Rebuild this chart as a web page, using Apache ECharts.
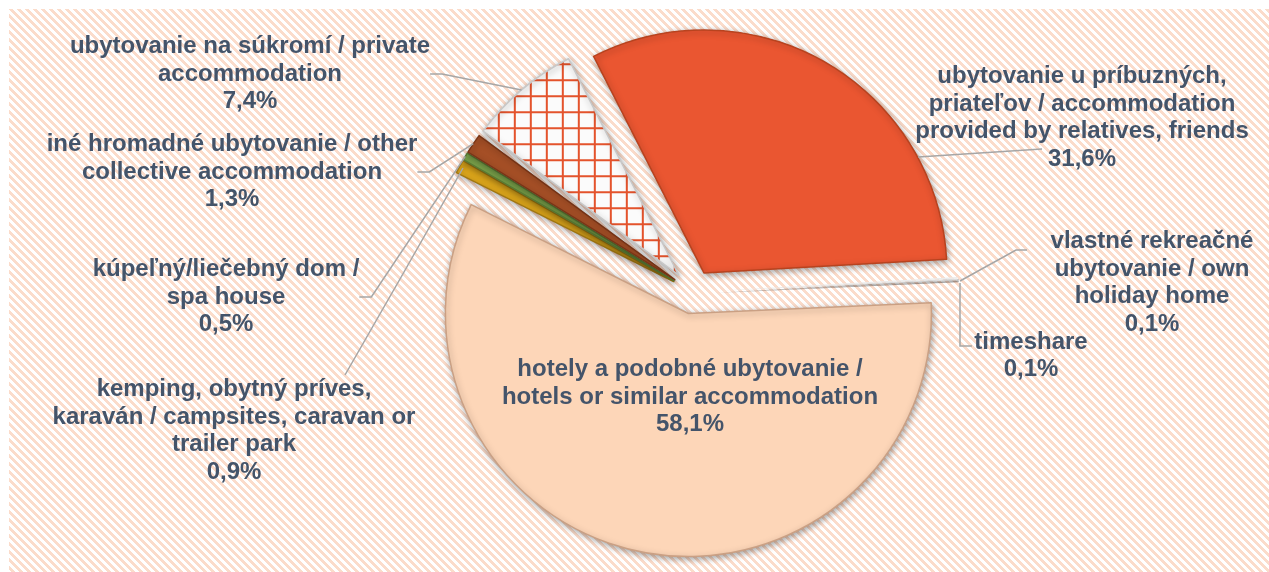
<!DOCTYPE html>
<html>
<head>
<meta charset="utf-8">
<title>Ubytovanie</title>
<script src="https://cdn.jsdelivr.net/npm/echarts@6/dist/echarts.min.js"></script>
<style>
  html, body { margin: 0; padding: 0; background: #fff; }
  #main { width: 1269px; height: 572px; }
</style>
</head>
<body>
<div id="main"></div>
<script>
// kategórie (v poradí v smere hodinových ručičiek)
var categories = [
   'ubytovanie u príbuzných,\npriateľov / accommodation\nprovided by relatives, friends',
   'vlastné rekreačné\nubytovanie / own\nholiday home',
   'timeshare',
   'hotely a podobné ubytovanie /\nhotels or similar accommodation',
   'kemping, obytný príves,\nkaraván / campsites, caravan or\ntrailer park',
   'kúpeľný/liečebný dom /\nspa house',
   'iné hromadné ubytovanie / other\ncollective accommodation',
   'ubytovanie na súkromí / private\naccommodation'
];
var values = [31.6, 0.1, 0.1, 58.1, 0.9, 0.5, 1.3, 7.4];

// vzhľad
var colors = ['#ea5631', '#ececec', '#dcdcdc', '#fdd6b8', '#dba51b', '#7fa94e', '#a54f26', null];
var borders = ['#b8431f', '#cfcfcf', '#c4c4c4', '#caa084', '#a27812', '#5b7d35', '#7a3516', '#c8c8c8'];
var labelPos = [[1082, 118], [1152, 283], [1031, 356], [690, 397], [234, 431], [226, 297], [232, 172], [250, 74]];
// vodiace čiary, ktoré treba viesť inak ako automaticky
var leaderLines = {
   0: [[918, 157], [980, 153], [1042, 149]],
   1: [[960, 281], [1016, 250], [1027, 250]],
   2: [[960, 283], [960, 346], [972, 346]],
   4: [[463, 168], [404, 272], [345, 375]]
};

var CENTER = [693, 292];
var RADIUS = 243;
var OFFSET = 22;

// pozadie - šikmé pruhy
function stripeCanvas () {
   var c = document.createElement('canvas');
   c.width = 8; c.height = 8;
   var ctx = c.getContext('2d');
   ctx.fillStyle = '#ffffff';
   ctx.fillRect(0, 0, 8, 8);
   ctx.fillStyle = '#fbdccb';
   for (var y = 0; y < 8; y++) {
      for (var x = 0; x < 8; x++) {
         if (((x - y) % 8 + 8) % 8 < 4) ctx.fillRect(x, y, 1, 1);
      }
   }
   return c;
}
// mriežka pre súkromné ubytovanie
function gridCanvas () {
   var c = document.createElement('canvas');
   c.width = 16; c.height = 16;
   var ctx = c.getContext('2d');
   ctx.fillStyle = '#fbfbfb';
   ctx.fillRect(0, 0, 16, 16);
   ctx.fillStyle = '#e4532c';
   ctx.fillRect(0, 0, 16, 2);
   ctx.fillRect(0, 0, 2, 16);
   return c;
}

var myChart = echarts.init(document.getElementById('main'));
var gridPattern = { image: gridCanvas(), repeat: 'repeat' };

// výseky (vysunuté)
var sliceData = categories.map(function (name, i) {
   var tiny = i === 1 || i === 2;
   var style = {
      color: colors[i] || gridPattern,
      borderColor: borders[i],
      borderWidth: tiny ? 0 : 1.5,
      shadowBlur: tiny ? 0 : 6,
      shadowColor: 'rgba(0,0,0,0.35)',
      shadowOffsetX: 1,
      shadowOffsetY: 2
   };
   return {
      name: name,
      value: values[i],
      selected: true,
      itemStyle: style,
      select: { itemStyle: style }
   };
});

// popisky (priehľadná vrstva)
var labelData = categories.map(function (name, i) {
   var item = { name: name, value: values[i] };
   if (i === 3) {
      item.label = { position: 'inside' };
      item.labelLine = { show: false };
   }
   return item;
});

var option = {
   backgroundColor: '#ffffff',
   animation: false,
   graphic: [{
      type: 'rect',
      left: 9,
      top: 9,
      z: -10,
      silent: true,
      shape: { width: 1260, height: 563 },
      style: { fill: { image: stripeCanvas(), repeat: 'repeat' } }
   }],
   series: [{
      type: 'pie',
      center: CENTER,
      radius: [0, RADIUS],
      startAngle: 117,
      clockwise: true,
      selectedMode: 'multiple',
      selectedOffset: OFFSET,
      silent: true,
      emphasis: { disabled: true },
      label: { show: false },
      labelLine: { show: false },
      data: sliceData
   }, {
      type: 'pie',
      center: CENTER,
      radius: [0, RADIUS + OFFSET],
      startAngle: 117,
      clockwise: true,
      silent: true,
      z: 5,
      avoidLabelOverlap: false,
      emphasis: { disabled: true },
      itemStyle: { color: 'rgba(0,0,0,0)', borderWidth: 0 },
      label: {
         show: true,
         position: 'outside',
         fontFamily: 'Liberation Sans, Arial, sans-serif',
         fontWeight: 'bold',
         fontSize: 24,
         lineHeight: 27.5,
         color: '#44546a',
         align: 'center',
         formatter: function (p) {
            return p.name + '\n' + p.value.toFixed(1).replace('.', ',') + '%';
         }
      },
      labelLine: {
         show: true,
         length: 10,
         length2: 12,
         lineStyle: { color: '#a6a6a6', width: 1.5 }
      },
      labelLayout: function (params) {
         var i = params.dataIndex;
         var p = labelPos[i];
         var res = { x: p[0], y: p[1], align: 'center', verticalAlign: 'middle' };
         if (leaderLines[i]) res.labelLinePoints = leaderLines[i];
         return res;
      },
      data: labelData
   }]
};
myChart.setOption(option);
window.addEventListener('resize', function () {
   myChart.resize();
});
</script>
</body>
</html>
